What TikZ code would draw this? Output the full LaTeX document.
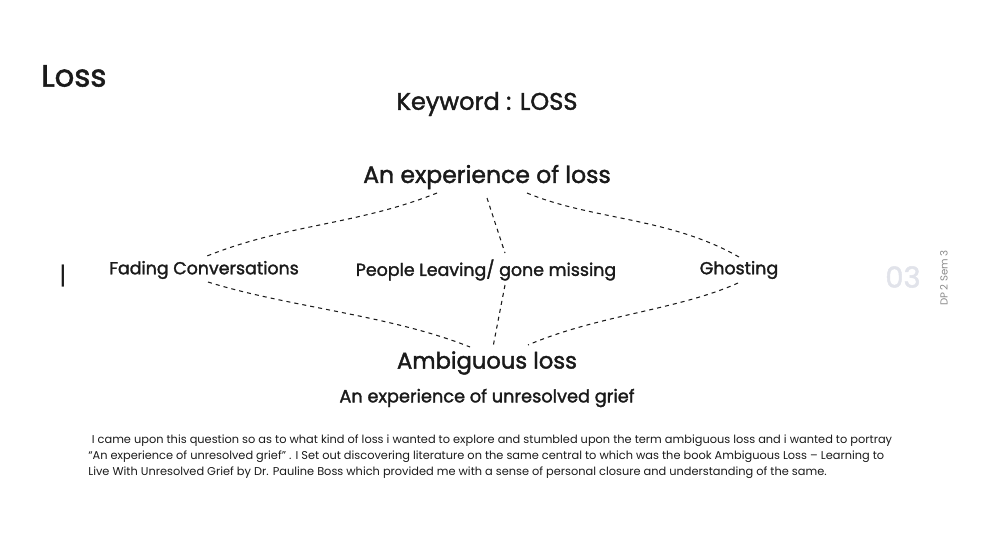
\documentclass[tikz,border=0pt]{standalone}
\usepackage{fontspec}
\setmainfont{Poppins}
\newfontfamily\medfont[FakeBold=1.7]{Poppins}
\usetikzlibrary{positioning,calc}
\definecolor{inkdark}{HTML}{1A1A1A}
\definecolor{pagenum}{HTML}{E1E3EA}
\definecolor{sidegray}{HTML}{8A8A8A}

\begin{document}
\begin{tikzpicture}[
  x=0.02cm, y=-0.02cm,
  heading/.style={inner sep=0pt, text=inkdark, font=\medfont\fontsize{13.4}{16}\selectfont},
  branch/.style={inner sep=0pt, text=inkdark, font=\medfont\fontsize{9.9}{12}\selectfont},
  dashline/.style={dash pattern=on 2.3pt off 2.3pt, line width=0.6pt, inkdark}
]
  \useasboundingbox (0,0) rectangle (981,552);

  \node[anchor=west, inner sep=0pt, text=inkdark, font=\medfont\fontsize{17.5}{20}\selectfont] (title) at (41,76) {Loss};
  \node[heading, font=\medfont\fontsize{13.7}{16}\selectfont] (keyword) at (487,104) {Keyword : LOSS};
  \node[heading] (exp) at (487,177) {An experience of loss};

  \node[branch] (fade) at (204,270) {Fading Conversations};
  \node[branch] (leave) at (486,270) {People Leaving/ gone missing};
  \node[branch] (ghost) at (739,270) {Ghosting};

  \node[heading, font=\medfont\fontsize{12.9}{15}\selectfont] (amb) at (487,363) {Ambiguous loss};
  \node[branch, font=\medfont\fontsize{10.1}{12}\selectfont] (grief) at (487,398) {An experience of unresolved grief};

  % upper links
  \draw[dashline] ([shift={(-50,16)}]exp.center) .. controls +(-80,32) and +(80,-32) .. ([shift={(3,-14)}]fade.center);
  \draw[dashline] ([shift={(0,21)}]exp.center) -- ([shift={(19,-17)}]leave.center);
  \draw[dashline] ([shift={(40,16)}]exp.center) .. controls +(65,27) and +(-70,-40) .. ([shift={(0,-13)}]ghost.center);

  % lower links
  \draw[dashline] ([shift={(4,12)}]fade.center) .. controls +(80,25) and +(-80,-32) .. ([shift={(-17,-16)}]amb.center);
  \draw[dashline] ([shift={(19,15)}]leave.center) -- ([shift={(6,-16)}]amb.center);
  \draw[dashline] ([shift={(-1,13)}]ghost.center) .. controls +(-60,27) and +(70,-30) .. ([shift={(41,-18)}]amb.center);

  % side marks
  \node[inner sep=0pt, text=inkdark, font=\fontsize{14}{16}\selectfont] (bar) at (63,276) {|};
  \node[inner sep=0pt, text=pagenum, font=\medfont\fontsize{16.5}{18}\selectfont] (pnum) at (903,277) {03};
  \node[inner sep=0pt, text=sidegray, rotate=90, font=\fontsize{5.8}{7}\selectfont] (sem) at (944,278) {DP 2 Sem 3};

  \node[anchor=north west, inner sep=0pt, align=left, text=inkdark, font=\fontsize{6.47}{9.1}\selectfont] (note) at (88,434)
    {\hspace{2pt}I came upon this question so as to what kind of loss i wanted to explore and stumbled upon the term ambiguous loss and i wanted to portray\\
     ``An experience of unresolved grief'' . I Set out discovering literature on the same central to which was the book Ambiguous Loss -- Learning to\\
     Live With Unresolved Grief by Dr. Pauline Boss which provided me with a sense of personal closure and understanding of the same.};
\end{tikzpicture}
\end{document}
